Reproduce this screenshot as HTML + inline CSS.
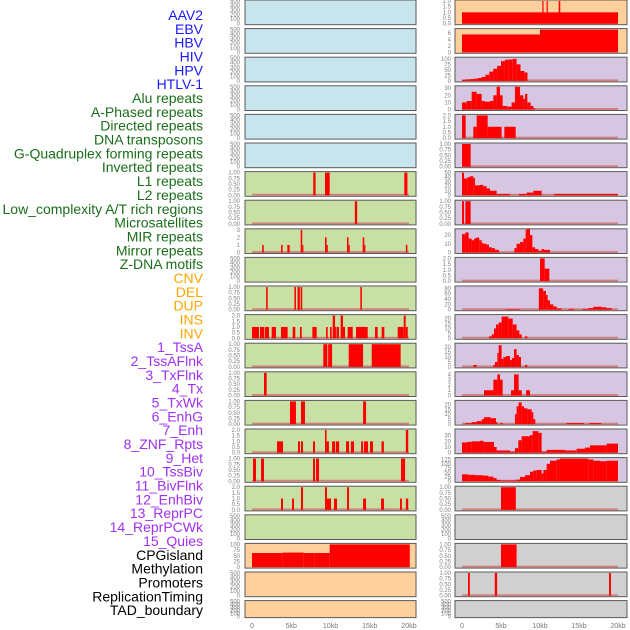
<!DOCTYPE html>
<html><head><meta charset="utf-8"><style>
html,body{margin:0;padding:0;background:#fff;}
svg{display:block;}
.lbl{font-family:"Liberation Sans",sans-serif;font-size:14px;}
.tk{font-family:"Liberation Sans",sans-serif;font-size:6px;fill:#808080;}
.ax{font-family:"Liberation Sans",sans-serif;font-size:7px;fill:#777;}
</style></head><body>
<svg id="chart" width="630" height="630"></svg>
<script>
// ---------- data ----------
const labelNames = ["AAV2","EBV","HBV","HIV","HPV","HTLV-1","Alu repeats","A-Phased repeats","Directed repeats","DNA transposons","G-Quadruplex forming repeats","Inverted repeats","L1 repeats","L2 repeats","Low_complexity A/T rich regions","Microsatellites","MIR repeats","Mirror repeats","Z-DNA motifs","CNV","DEL","DUP","INS","INV","1_TssA","2_TssAFlnk","3_TxFlnk","4_Tx","5_TxWk","6_EnhG","7_Enh","8_ZNF_Rpts","9_Het","10_TssBiv","11_BivFlnk","12_EnhBiv","13_ReprPC","14_ReprPCWk","15_Quies","CPGisland","Methylation","Promoters","ReplicationTiming","TAD_boundary"];
const labelGroups = [0,0,0,0,0,0,1,1,1,1,1,1,1,1,1,1,1,1,1,2,2,2,2,2,3,3,3,3,3,3,3,3,3,3,3,3,3,3,3,4,4,4,4,4];
const groupColors = ["#1a1aff","#1a6e1a","#ffa500","#a030f0","#000000"];
const xTickValues = [0,5,10,15,20];
const xTickLabels = ["0","5kb","10kb","15kb","20kb"];

const T500 = [0,100,200,300,400,500];
const T1 = [0,0.25,0.5,0.75,1];
const T1L = ["0.00","0.25","0.50","0.75","1.00"];
const T2 = [0,0.5,1,1.5,2];
const T2L = ["0.0","0.5","1.0","1.5","2.0"];

// Left column panels (bg, ticks, tickLabels, max, segments [startKb,endKb,value])
const leftBg = ["b","b","b","b","b","b","g","g","g","g","g","g","g","g","g","g","g","g","g","o","o","o"];
const leftTicks = [T500,T500,T500,T500,T500,T500,T1,T1,[0,1,2,3],T500,T1,T2,T1,T1,T1,T2,T1,T2,T500,[0,25,50,75,100],T500,T500];
const leftTickLabels = [null,null,null,null,null,null,T1L,T1L,null,null,T1L,T2L,T1L,T1L,T1L,T2L,T1L,T2L,null,null,null,null];
const leftSegs = [
 null,null,null,null,null,null,
 [[7.8,8.1,1],[9.3,9.9,1],[19.4,19.8,1]],
 [[13.1,13.4,1]],
 [[1.3,1.5,1],[3.7,3.9,1],[4.5,4.8,1],[6.2,6.4,3],[6.4,6.5,1],[9.3,9.5,2],[9.5,9.65,1],[12.1,12.3,2],[12.3,12.45,1],[14.1,14.3,2],[14.3,14.4,1],[19.6,19.8,1]],
 null,
 [[1.8,2.0,1],[5.4,5.6,1],[5.8,6.1,1],[6.2,6.4,1],[13.8,14.0,1]],
 [[0,0.89,1],[1.02,1.57,1],[1.66,2.17,1],[2.51,3.06,1],[3.69,4.54,1],[5.18,5.52,1],[6.11,6.33,1],[7.69,8.24,1],[9.43,9.64,1],[9.94,10.15,1],[10.28,10.58,2],[10.58,10.66,1],[10.79,11.08,1],[11.29,11.59,2],[11.59,11.85,1],[12.19,12.83,1],[13.25,14.74,1],[15.67,16.01,1],[16.52,16.86,1],[18.56,19.33,1],[19.33,19.58,2],[19.58,19.84,1]],
 [[9.08,9.6,1],[9.7,10.2,1],[12.32,14.15,1],[15.25,18.94,1]],
 [[1.53,1.87,1]],
 [[4.84,5.6,1],[6.24,6.75,1],[14.15,14.53,1]],
 [[3.19,3.95,1],[5.86,6.11,1],[6.24,6.5,1],[7.77,8.03,1],[9.3,9.5,2],[9.5,9.8,1],[10.2,10.6,1],[10.7,11.1,1],[11.98,12.36,1],[12.6,13.0,1],[13.9,14.15,1],[14.27,14.78,1],[15.03,15.41,1],[16.5,16.8,1],[19.6,19.9,2]],
 [[0.13,0.51,1],[1.15,1.53,1],[7.77,8.03,1],[8.16,8.54,1],[18.98,19.5,1]],
 [[3.69,3.95,1],[5.1,5.35,1],[6.24,6.5,2],[9.3,9.55,2],[9.55,10.07,1],[10.45,10.83,1],[12.11,12.36,2],[14.15,14.53,1],[16.44,16.82,1],[18.86,19.1,1],[19.6,19.9,1]],
 null,
 [[0,3.87,62],[3.87,6.6,64],[6.6,8.0,62],[8.0,9.9,62],[9.9,20.1,100]],
 null,null
];

// Right column panels
const rightBg = ["o","o","p","p","p","p","p","p","p","p","p","p","p","p","p","p","p","x","x","x","x","x"];
const rightTicks = [T2,[0,2,4,6],[0,25,50,75,100],[0,10,20,30],T2,T1,[0,10,20,30,40,50],T1,[0,10,20],T2,[0,20,40,60,80],[0,5,10,15,20],[0,5,10,15,20],[0,1,2,3,4],[0,5,10,15,20],[0,10,20,30],[0,25,50,75,100,125],T1,T500,T1,T1,T500];
const rightTickLabels = [T2L,null,null,null,T2L,T1L,null,T1L,null,T2L,null,null,null,null,null,null,null,T1L,null,T1L,T1L,null];
const rightMax = [2,7,103,32,2,1,50,1,26,2,85,23,23,4.3,23,40,130,1,500,1,1,500];
const rightSegs = [
 [[0,20,1],[10.3,10.4,2],[10.85,11.0,2],[12.4,12.6,2]],
 [[0,10,5.5],[10,20,7]],
 [[0,0.5,5],[0.5,1,7],[1,1.5,8],[1.5,2,10],[2,2.5,13],[2.5,3,18],[3,3.5,28],[3.5,4,42],[4,4.5,55],[4.5,5,68],[5,5.5,90],[5.5,6,96],[6,6.5,97],[6.5,7,100],[7,7.5,75],[7.5,8,45],[8,8.4,38]],
 [[0,0.6,10],[0.6,1.24,12],[1.24,1.88,25],[1.88,2.52,22],[2.52,2.95,12],[2.95,3.59,11],[3.59,4.02,12],[4.02,4.44,20],[4.44,4.87,32],[4.87,5.21,20],[5.21,5.81,5],[5.81,6.36,4],[6.36,6.79,10],[6.79,7.44,32],[7.44,7.86,20],[7.86,8.08,15],[8.08,8.38,22],[8.38,8.8,10],[8.8,9.15,5],[9.15,9.36,2]],
 [[0,0.47,2],[1.45,1.88,1],[1.88,3.29,2],[3.29,5.08,1],[5.43,6.88,1]],
 [[0,1.11,1]],
 [[0,0.26,50],[0.26,0.68,37],[0.68,1.03,40],[1.03,1.45,42],[1.45,1.67,38],[1.67,2.31,22],[2.31,2.74,23],[2.74,3.16,20],[3.16,3.59,15],[3.59,4.44,10],[4.44,6.15,3],[7.3,8.29,3],[8.29,9.15,6],[9.15,10.21,10],[11.8,20,3]],
 [[0,0.26,1],[0.43,1.11,1]],
 [[0,0.43,21],[0.43,0.85,23],[0.85,1.24,16],[1.24,1.54,14],[1.54,1.79,16],[1.79,2.22,17],[2.22,2.52,14],[2.52,2.74,11],[2.74,3.16,10],[3.16,3.46,9],[3.46,3.8,6],[3.8,4.23,5],[4.23,4.74,3],[6.71,7.0,5],[7.0,7.44,10],[7.44,7.86,12],[7.86,8.16,16],[8.16,8.29,26],[8.29,8.72,27],[8.72,9.02,20],[9.02,9.36,6],[9.36,9.79,4],[9.79,10.21,2],[10.21,10.51,4],[10.51,11.28,3]],
 [[10.0,10.6,2],[10.6,11.2,1.1]],
 [[5.55,7.44,2],[9.85,10.4,80],[10.4,10.77,70],[10.77,10.98,55],[10.98,11.28,35],[11.28,11.71,20],[11.71,12.14,12],[12.14,12.78,5],[13.63,14.36,3],[15.43,16.2,3],[16.2,16.84,6],[16.84,17.9,11],[17.9,18.55,9],[18.55,19.19,6]],
 [[3.46,3.8,2],[3.8,4.1,4],[4.1,4.36,10],[4.36,4.7,14],[4.7,5.08,16],[5.08,5.94,22],[5.94,6.5,20],[6.5,7.0,14],[7.0,7.35,8],[7.35,7.65,4],[8.08,8.38,2]],
 [[1.45,1.88,2],[4.02,4.23,2],[4.23,4.53,5],[4.53,4.7,14],[4.7,5.08,22],[5.08,5.3,8],[5.3,5.64,10],[5.64,6.15,11],[6.15,6.4,7],[6.4,6.67,9],[6.67,7.0,18],[7.0,7.3,12],[7.3,7.56,10],[8.08,8.38,2]],
 [[2.82,4.02,1],[4.02,4.53,3],[4.53,4.87,4],[4.87,5.21,3],[6.28,6.67,1],[6.67,7.26,4],[7.26,7.65,1],[8.21,8.72,1]],
 [[0.38,1.24,1],[1.24,1.88,2],[1.88,2.52,3],[2.52,2.82,5],[2.82,3.68,7],[3.68,4.36,6],[4.36,4.53,2],[4.87,5.21,1],[6.79,7.0,10],[7.0,7.26,18],[7.26,7.65,22],[7.65,7.95,18],[7.95,8.38,16],[8.38,8.93,15],[8.93,9.15,12],[9.15,9.4,5],[13.37,15.64,1],[16.27,17.85,1]],
 [[0,0.6,18],[0.6,1.24,19],[1.24,2.31,20],[2.31,2.74,21],[2.74,4.1,19],[4.1,4.44,10],[4.44,6.15,4],[6.15,6.79,2],[6.79,7.22,8],[7.22,7.65,22],[7.65,8.72,29],[8.72,9.06,31],[9.06,9.79,38],[9.79,10.21,35],[10.21,10.85,2],[10.85,13.2,5],[13.2,14.7,4],[14.7,15.77,7],[15.77,16.4,9],[16.4,18.55,13],[18.55,20,16]],
 [[0,0.81,40],[0.81,1.67,37],[1.67,2.74,35],[2.74,3.38,32],[3.38,4.02,27],[4.02,4.44,18],[4.44,4.87,8],[4.87,7.0,5],[7.0,7.44,10],[7.44,8.08,25],[8.08,8.72,35],[8.72,9.15,55],[9.15,9.57,62],[9.57,10.21,65],[10.21,10.43,45],[10.43,10.85,65],[10.85,11.28,100],[11.28,12.14,118],[12.14,12.56,125],[12.56,16.2,130],[16.2,16.84,125],[16.84,17.69,118],[17.69,18.55,115],[18.55,20,118]],
 [[5.0,6.9,1]],
 null,
 [[5.0,7.0,1]],
 [[0.77,1.0,1],[4.2,4.5,1],[18.85,19.1,1]],
 null
];
const leftMax = [500,500,500,500,500,500,1,1,3,500,1,2,1,1,1,2,1,2,500,100,500,500];

// ---------- drawing ----------
const NS = "http://www.w3.org/2000/svg";
const svg = document.getElementById("chart");
const bgColors = {b:"#c8e4ec",g:"#c8e0a4",o:"#ffd09c",p:"#d6c6e2",x:"#d0d0d0"};
function mk(tag, attrs, parent){const e=document.createElementNS(NS,tag);for(const k in attrs)e.setAttribute(k,attrs[k]);(parent||svg).appendChild(e);return e;}

// labels
labelNames.forEach((name,i)=>{
  const t = mk("text",{x:203,y:(20+i*13.84).toFixed(1),"text-anchor":"end","class":"lbl",fill:groupColors[labelGroups[i]]});
  t.textContent = name;
  
  
});

const cols = [
  {x0:245,x1:416,zero:252,per:7.85,tickX:240,bg:leftBg,ticks:leftTicks,tl:leftTickLabels,max:leftMax,segs:leftSegs,name:"left"},
  {x0:455,x1:627,zero:462,per:7.8,tickX:451,bg:rightBg,ticks:rightTicks,tl:rightTickLabels,max:rightMax,segs:rightSegs,name:"right"}
];
const PITCH = 28.6;
cols.forEach(c=>{
  const xScale = kb => c.zero + kb*c.per;
  for(let r=0;r<22;r++){
    const top = r*PITCH;
    const h = r===21 ? 17 : 24.7;
    const bottom = top + h;
    const g = mk("g",{});
    
    
    const rect = mk("rect",{x:c.x0,y:top,width:c.x1-c.x0,height:h,fill:bgColors[c.bg[r]],stroke:"#5a5a5a","stroke-width":1},g);
    
    
    const max = c.max[r];
    const yScale = v => bottom - 1 - (v/max)*(h-2);
    // ticks
    c.ticks[r].forEach((tv,ti)=>{
      const lab = c.tl[r] ? c.tl[r][ti] : String(tv);
      const t = mk("text",{x:c.tickX,y:(yScale(tv)+2).toFixed(1),"text-anchor":"end","class":"tk"},g);
      t.textContent = lab;
      
      
    });
    const segs = c.segs[r];
    if(segs){
      const clip = "clip-"+c.name+r;
      const cp = mk("clipPath",{id:clip},svg);
      mk("rect",{x:c.x0,y:top,width:c.x1-c.x0,height:h},cp);
      const bl = mk("line",{x1:xScale(0),x2:xScale(20),y1:bottom-1.5,y2:bottom-1.5,stroke:"#d07070","stroke-width":2,opacity:0.8},g);
      
      
      segs.forEach(s=>{
        const x1 = xScale(s[0]), x2 = xScale(s[1]), y = yScale(s[2]);
        const b = mk("rect",{x:x1.toFixed(2),y:y.toFixed(2),width:Math.max(1.2,x2-x1).toFixed(2),height:(bottom-1-y).toFixed(2),fill:"#ff0000","clip-path":"url(#"+clip+")"},g);
        
        
      });
    }
  }
  // x axis labels
  xTickValues.forEach((v,i)=>{
    const t = mk("text",{x:xScale(v),y:628,"text-anchor":"middle","class":"ax"});
    t.textContent = xTickLabels[i];
    
    
  });
});
</script>
</body></html>
